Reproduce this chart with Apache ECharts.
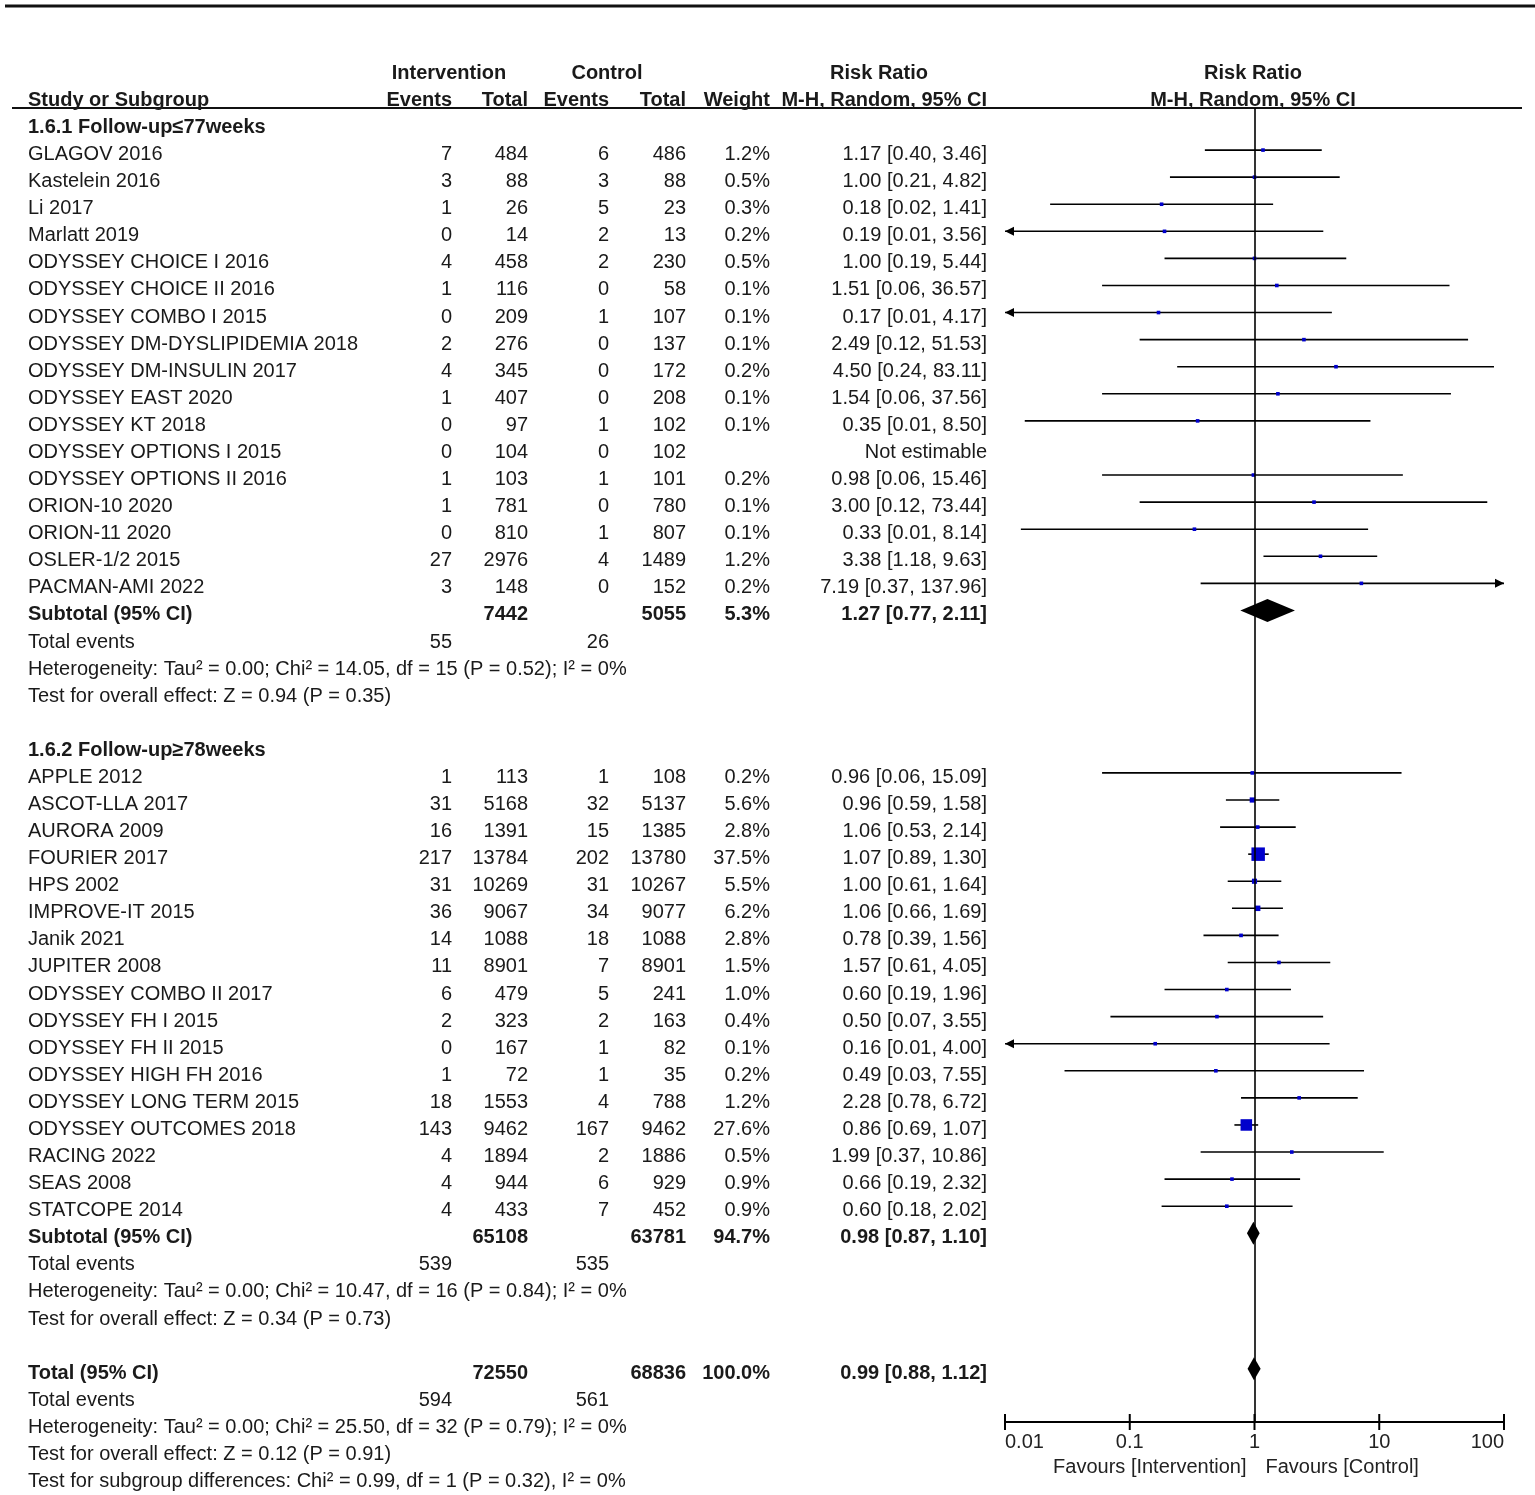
<!DOCTYPE html>
<html>
<head>
<meta charset="utf-8">
<script src="https://cdn.jsdelivr.net/npm/echarts@6/dist/echarts.min.js"></script>
<style>
html,body{margin:0;padding:0;background:#fff;}
#chart{width:1535px;height:1495px;}
</style>
</head>
<body>
<div id="chart"></div>
<script>
// ---------------- DATA ----------------
const group1Title = "1.6.1 Follow-up≤77weeks";
const names1 = ["GLAGOV 2016","Kastelein 2016","Li 2017","Marlatt 2019","ODYSSEY CHOICE I 2016","ODYSSEY CHOICE II 2016","ODYSSEY COMBO I 2015","ODYSSEY DM-DYSLIPIDEMIA 2018","ODYSSEY DM-INSULIN 2017","ODYSSEY EAST 2020","ODYSSEY KT 2018","ODYSSEY OPTIONS I 2015","ODYSSEY OPTIONS II 2016","ORION-10 2020","ORION-11 2020","OSLER-1/2 2015","PACMAN-AMI 2022"];
const evI1 = [7,3,1,0,4,1,0,2,4,1,0,0,1,1,0,27,3];
const totI1 = [484,88,26,14,458,116,209,276,345,407,97,104,103,781,810,2976,148];
const evC1 = [6,3,5,2,2,0,1,0,0,0,1,0,1,0,1,4,0];
const totC1 = [486,88,23,13,230,58,107,137,172,208,102,102,101,780,807,1489,152];
const wt1 = [1.2,0.5,0.3,0.2,0.5,0.1,0.1,0.1,0.2,0.1,0.1,null,0.2,0.1,0.1,1.2,0.2];
const rr1 = [1.17,1.00,0.18,0.19,1.00,1.51,0.17,2.49,4.50,1.54,0.35,null,0.98,3.00,0.33,3.38,7.19];
const lo1 = [0.40,0.21,0.023,0.0097,0.19,0.06,0.0069,0.12,0.24,0.06,0.0144,null,0.06,0.12,0.0134,1.18,0.37];
const hi1 = [3.46,4.82,1.41,3.56,5.44,36.57,4.17,51.53,83.11,37.56,8.50,null,15.46,73.44,8.14,9.63,137.96];
const sub1 = {totI:7442, totC:5055, w:5.3, rr:1.27, lo:0.77, hi:2.11, evI:55, evC:26};
const het1 = "Heterogeneity: Tau² = 0.00; Chi² = 14.05, df = 15 (P = 0.52); I² = 0%";
const test1 = "Test for overall effect: Z = 0.94 (P = 0.35)";

const group2Title = "1.6.2 Follow-up≥78weeks";
const names2 = ["APPLE 2012","ASCOT-LLA 2017","AURORA 2009","FOURIER 2017","HPS 2002","IMPROVE-IT 2015","Janik 2021","JUPITER 2008","ODYSSEY COMBO II 2017","ODYSSEY FH I 2015","ODYSSEY FH II 2015","ODYSSEY HIGH FH 2016","ODYSSEY LONG TERM 2015","ODYSSEY OUTCOMES 2018","RACING 2022","SEAS 2008","STATCOPE 2014"];
const evI2 = [1,31,16,217,31,36,14,11,6,2,0,1,18,143,4,4,4];
const totI2 = [113,5168,1391,13784,10269,9067,1088,8901,479,323,167,72,1553,9462,1894,944,433];
const evC2 = [1,32,15,202,31,34,18,7,5,2,1,1,4,167,2,6,7];
const totC2 = [108,5137,1385,13780,10267,9077,1088,8901,241,163,82,35,788,9462,1886,929,452];
const wt2 = [0.2,5.6,2.8,37.5,5.5,6.2,2.8,1.5,1.0,0.4,0.1,0.2,1.2,27.6,0.5,0.9,0.9];
const rr2 = [0.96,0.96,1.06,1.07,1.00,1.06,0.78,1.57,0.60,0.50,0.16,0.49,2.28,0.86,1.99,0.66,0.60];
const lo2 = [0.06,0.59,0.53,0.89,0.61,0.66,0.39,0.61,0.19,0.07,0.0064,0.03,0.78,0.69,0.37,0.19,0.18];
const hi2 = [15.09,1.58,2.14,1.30,1.64,1.69,1.56,4.05,1.96,3.55,4.00,7.55,6.72,1.07,10.86,2.32,2.02];
const sub2 = {totI:65108, totC:63781, w:94.7, rr:0.98, lo:0.87, hi:1.10, evI:539, evC:535};
const het2 = "Heterogeneity: Tau² = 0.00; Chi² = 10.47, df = 16 (P = 0.84); I² = 0%";
const test2 = "Test for overall effect: Z = 0.34 (P = 0.73)";

const totalAll = {totI:72550, totC:68836, w:100.0, rr:0.99, lo:0.88, hi:1.12, evI:594, evC:561};
const hetT = "Heterogeneity: Tau² = 0.00; Chi² = 25.50, df = 32 (P = 0.79); I² = 0%";
const testT = "Test for overall effect: Z = 0.12 (P = 0.91)";
const testSub = "Test for subgroup differences: Chi² = 0.99, df = 1 (P = 0.32), I² = 0%";

const axisTicks = [0.01, 0.1, 1, 10, 100];
const favoursLeft = "Favours [Intervention]";
const favoursRight = "Favours [Control]";

// ---------------- LAYOUT ----------------
const W = 1535, H = 1495;
const ROW0 = 127.5, ROWH = 27.08, TOP_Y = 108, AXIS_Y = 1422;
const MARK_DY = -4.5;
const PLOT_L = 1005, PLOT_R = 1504;
const FONT = "'Liberation Sans', Arial, sans-serif";
const TXT = "#1a1a1a";
const COL = {name:28, evI:452, totI:528, evC:609, totC:686, w:770, rr:987};

function fmtCI(r, l, h){ return r.toFixed(2)+" ["+l.toFixed(2)+", "+h.toFixed(2)+"]"; }

const tableRows = [];
function addRow(row, cells){ tableRows.push({row, cells}); }
function cell(text, x, align, bold){ return {text:String(text), x, align:align||'right', bold:!!bold}; }

addRow(-2, [cell("Intervention",449,'center',true), cell("Control",607,'center',true), cell("Risk Ratio",879,'center',true), cell("Risk Ratio",1253,'center',true)]);
addRow(-1, [cell("Study or Subgroup",COL.name,'left',true), cell("Events",COL.evI,'right',true), cell("Total",COL.totI,'right',true), cell("Events",COL.evC,'right',true), cell("Total",COL.totC,'right',true), cell("Weight",COL.w,'right',true), cell("M-H, Random, 95% CI",COL.rr,'right',true), cell("M-H, Random, 95% CI",1253,'center',true)]);

const studyMarks = [];
const diamonds = [];
function addGroup(startRow, title, names, evI, totI, evC, totC, wt, rr, lo, hi, sub, het, test){
  addRow(startRow, [cell(title, COL.name, 'left', true)]);
  names.forEach((n,i)=>{
    const r = startRow+1+i;
    const cells = [cell(n,COL.name,'left'), cell(evI[i],COL.evI), cell(totI[i],COL.totI), cell(evC[i],COL.evC), cell(totC[i],COL.totC)];
    if (wt[i]!=null) cells.push(cell(wt[i].toFixed(1)+"%",COL.w));
    cells.push(cell(rr[i]!=null ? fmtCI(rr[i],lo[i],hi[i]) : "Not estimable", COL.rr));
    addRow(r, cells);
    if (rr[i]!=null) studyMarks.push([rr[i], r, lo[i], hi[i], wt[i]]);
  });
  const sr = startRow+1+names.length;
  addRow(sr, [cell("Subtotal (95% CI)",COL.name,'left',true), cell(sub.totI,COL.totI,'right',true), cell(sub.totC,COL.totC,'right',true), cell(sub.w.toFixed(1)+"%",COL.w,'right',true), cell(fmtCI(sub.rr,sub.lo,sub.hi),COL.rr,'right',true)]);
  diamonds.push([sub.rr, sr, sub.lo, sub.hi]);
  addRow(sr+1, [cell("Total events",COL.name,'left'), cell(sub.evI,COL.evI), cell(sub.evC,COL.evC)]);
  addRow(sr+2, [cell(het,COL.name,'left')]);
  addRow(sr+3, [cell(test,COL.name,'left')]);
  return sr+3;
}
let last = addGroup(0, group1Title, names1, evI1, totI1, evC1, totC1, wt1, rr1, lo1, hi1, sub1, het1, test1);
last = addGroup(last+2, group2Title, names2, evI2, totI2, evC2, totC2, wt2, rr2, lo2, hi2, sub2, het2, test2);
const tr = last+2;
addRow(tr, [cell("Total (95% CI)",COL.name,'left',true), cell(totalAll.totI,COL.totI,'right',true), cell(totalAll.totC,COL.totC,'right',true), cell(totalAll.w.toFixed(1)+"%",COL.w,'right',true), cell(fmtCI(totalAll.rr,totalAll.lo,totalAll.hi),COL.rr,'right',true)]);
diamonds.push([totalAll.rr, tr, totalAll.lo, totalAll.hi]);
addRow(tr+1, [cell("Total events",COL.name,'left'), cell(totalAll.evI,COL.evI), cell(totalAll.evC,COL.evC)]);
addRow(tr+2, [cell(hetT,COL.name,'left')]);
addRow(tr+3, [cell(testT,COL.name,'left')]);
addRow(tr+4, [cell(testSub,COL.name,'left')]);

const yMin = (TOP_Y-ROW0)/ROWH, yMax = (AXIS_Y-ROW0)/ROWH;
const XMIN = axisTicks[0], XMAX = axisTicks[axisTicks.length-1];

function textEl(x, y, c){
  return {type:'text', x:x, y:y, style:{text:c.text, fill:TXT, fontFamily:FONT, fontSize:20, fontWeight:c.bold?'bold':'normal', align:c.align, verticalAlign:'middle'}};
}

const chart = echarts.init(document.getElementById('chart'), null, {renderer:'canvas', width:W, height:H});
const option = {
  backgroundColor:'#fff',
  animation:false,
  grid:{left:PLOT_L, right:W-PLOT_R, top:TOP_Y, bottom:H-AXIS_Y, outerBoundsMode:'none', containLabel:false},
  xAxis:{
    type:'log', logBase:10, min:XMIN, max:XMAX, position:'bottom',
    axisLine:{show:true, onZero:false, lineStyle:{color:'#000', width:2}},
    axisTick:{show:false},
    axisLabel:{show:true, fontFamily:FONT, fontSize:20, color:'#222', margin:10, alignMinLabel:'left', alignMaxLabel:'right',
      formatter:function(v){ return v>=1 ? String(Math.round(v)) : String(+v.toPrecision(1)); }},
    splitLine:{show:false}
  },
  yAxis:{type:'value', inverse:true, min:yMin, max:yMax, show:false},
  graphic:[
    {type:'line', shape:{x1:5, y1:6, x2:W, y2:6}, style:{stroke:'#111', lineWidth:3}},
    {type:'line', shape:{x1:12, y1:TOP_Y, x2:1522, y2:TOP_Y}, style:{stroke:'#111', lineWidth:2}}
  ],
  series:[
    {
      type:'custom', name:'studies', coordinateSystem:'cartesian2d', clip:false,
      data: studyMarks,
      renderItem:function(params, api){
        const rr = api.value(0), row = api.value(1), lo = api.value(2), hi = api.value(3), w = api.value(4);
        const y = api.coord([1,row])[1] + MARK_DY;
        const xl = api.coord([Math.max(lo,XMIN),row])[0];
        const xh = api.coord([Math.min(hi,XMAX),row])[0];
        const xc = api.coord([rr,row])[0];
        const ch = [];
        ch.push({type:'line', shape:{x1:xl, y1:y, x2:xh, y2:y}, style:{stroke:'#000', lineWidth:1.6}});
        if (lo < XMIN) ch.push({type:'polygon', shape:{points:[[xl,y],[xl+9,y-4.5],[xl+9,y+4.5]]}, style:{fill:'#000'}});
        if (hi > XMAX) ch.push({type:'polygon', shape:{points:[[xh,y],[xh-9,y-4.5],[xh-9,y+4.5]]}, style:{fill:'#000'}});
        const s = Math.max(3.6, 2.2*Math.sqrt(w));
        const sh = Math.max(3, s);
        ch.push({type:'rect', shape:{x:xc-s/2, y:y-sh/2, width:s, height:sh}, style:{fill:'#0000cc'}});
        return {type:'group', children:ch};
      },
      markLine:{silent:true, symbol:'none', label:{show:false}, animation:false,
        lineStyle:{color:'#000', width:1.6, type:'solid'}, data:[{xAxis:1}]}
    },
    {
      type:'custom', name:'diamonds', coordinateSystem:'cartesian2d', clip:false,
      data: diamonds,
      renderItem:function(params, api){
        const rr = api.value(0), row = api.value(1), lo = api.value(2), hi = api.value(3);
        const y = api.coord([1,row])[1] + MARK_DY;
        const xl = api.coord([lo,row])[0], xh = api.coord([hi,row])[0], xc = api.coord([rr,row])[0];
        const h = 11.5;
        return {type:'polygon', shape:{points:[[xl,y],[xc,y-h],[xh,y],[xc,y+h]]}, style:{fill:'#000'}};
      }
    },
    {
      type:'custom', name:'ticks', coordinateSystem:'cartesian2d', clip:false, silent:true,
      data: axisTicks.map(v=>[v, yMax]),
      renderItem:function(params, api){
        const p = api.coord([api.value(0), api.value(1)]);
        return {type:'line', shape:{x1:p[0], y1:p[1]-8, x2:p[0], y2:p[1]+8}, style:{stroke:'#000', lineWidth:2}};
      }
    },
    {
      type:'custom', name:'table', coordinateSystem:'cartesian2d', clip:false, silent:true,
      data: tableRows.map((d,i)=>[1, d.row, i]),
      renderItem:function(params, api){
        const d = tableRows[api.value(2)];
        const y = api.coord([1, d.row])[1];
        return {type:'group', children:d.cells.map(c=>textEl(c.x, y, c))};
      }
    },
    {
      type:'custom', name:'favours', coordinateSystem:'cartesian2d', clip:false, silent:true,
      data:[[1, yMax]],
      renderItem:function(params, api){
        const p = api.coord([1, api.value(1)]);
        const y = p[1] + 45;
        return {type:'group', children:[
          {type:'text', x:p[0]-8, y:y, style:{text:favoursLeft, fill:'#222', fontFamily:FONT, fontSize:20, align:'right', verticalAlign:'middle'}},
          {type:'text', x:p[0]+11, y:y, style:{text:favoursRight, fill:'#222', fontFamily:FONT, fontSize:20, align:'left', verticalAlign:'middle'}}
        ]};
      }
    }
  ]
};
chart.setOption(option);
</script>
</body>
</html>
